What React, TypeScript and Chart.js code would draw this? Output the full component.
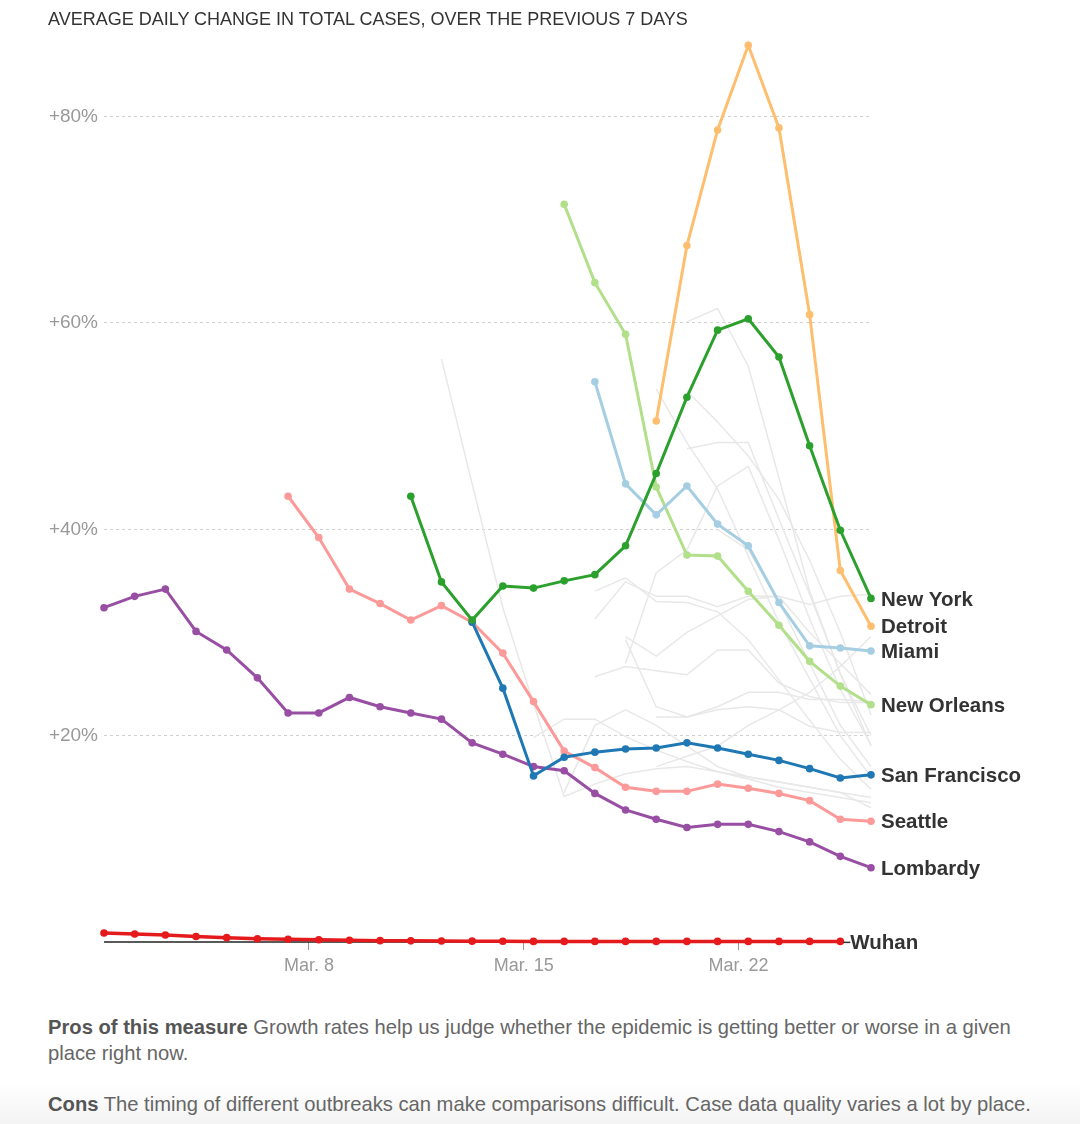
import React, { useEffect, useRef } from 'react';
import { Chart, registerables } from 'chart.js';

Chart.register(...registerables);

const TITLE = 'AVERAGE DAILY CHANGE IN TOTAL CASES, OVER THE PREVIOUS 7 DAYS';
const PROS_LABEL = 'Pros of this measure';
const PROS_LINE1 = ' Growth rates help us judge whether the epidemic is getting better or worse in a given';
const PROS_LINE2 = 'place right now.';
const CONS_LABEL = 'Cons';
const CONS_TEXT = ' The timing of different outbreaks can make comparisons difficult. Case data quality varies a lot by place.';

// x = day of March; points sit slightly after the midnight tick
const POINT_OFFSET = 0.32;
const tickDays = [8, 15, 22];
const tickLabels = ['Mar. 8', 'Mar. 15', 'Mar. 22'];
const yTicks = [20, 40, 60, 80];

// Highlighted places (start day in March, daily values in %)
const newYorkStart = 11;
const newYork = [43.2, 34.9, 31.2, 34.5, 34.3, 35.0, 35.6, 38.4, 45.4, 52.8, 59.3, 60.4, 56.7, 48.1, 39.9, 33.3];
const detroitStart = 19;
const detroit = [50.5, 67.5, 78.7, 86.9, 78.9, 60.8, 36.0, 30.6];
const miamiStart = 17;
const miami = [54.3, 44.4, 41.4, 44.2, 40.5, 38.4, 32.9, 28.7, 28.5, 28.2];
const newOrleansStart = 16;
const newOrleans = [71.5, 63.9, 58.9, 44.1, 37.5, 37.4, 34.0, 30.7, 27.2, 24.8, 23.0];
const sanFranciscoStart = 13;
const sanFrancisco = [31.0, 24.6, 16.1, 17.9, 18.4, 18.7, 18.8, 19.3, 18.8, 18.2, 17.6, 16.8, 15.9, 16.2];
const seattleStart = 7;
const seattle = [43.2, 39.2, 34.2, 32.8, 31.2, 32.6, 31.0, 28.0, 23.3, 18.5, 16.9, 15.0, 14.6, 14.6, 15.3, 14.9, 14.4, 13.7, 11.9, 11.7];
const lombardyStart = 1;
const lombardy = [32.4, 33.5, 34.2, 30.1, 28.3, 25.6, 22.2, 22.2, 23.7, 22.8, 22.2, 21.6, 19.3, 18.2, 17.0, 16.6, 14.4, 12.8, 11.9, 11.1, 11.4, 11.4, 10.7, 9.7, 8.3, 7.2];
const wuhanStart = 1;
const wuhan = [0.87, 0.78, 0.68, 0.54, 0.42, 0.32, 0.26, 0.22, 0.17, 0.13, 0.11, 0.1, 0.08, 0.07, 0.06, 0.06, 0.06, 0.06, 0.06, 0.06, 0.06, 0.06, 0.06, 0.06, 0.06];

// Other places (grey background lines)
const otherStarts = [12, 20, 19, 20, 20, 18, 17, 17, 17, 18, 18, 19, 15, 19, 21, 16];
const otherValues = [
  [56.5, 44.4, 32.4, 23.1, 14.1, 15.3, 16.3, 16.8, 17.0, 16.5, 16.0, 15.5, 15.0, 14.5, 14.0],
  [60.1, 61.4, 55.8, 45.0, 34.0, 26.0, 19.0],
  [53.6, 48.4, 43.9, 37.4, 31.0, 25.5, 20.0, 16.0],
  [47.8, 48.4, 48.4, 41.0, 33.7, 26.0, 20.0],
  [53.4, 50.4, 47.1, 42.9, 37.0, 30.0, 22.0],
  [27.0, 35.8, 38.0, 44.2, 46.1, 39.0, 31.3, 24.5, 19.1],
  [34.0, 35.3, 33.0, 32.9, 32.0, 29.3, 25.4, 21.5, 17.7, 14.8],
  [31.3, 34.9, 33.5, 33.5, 32.5, 33.5, 33.5, 32.7, 33.5, 33.7],
  [25.7, 26.7, 26.3, 25.9, 28.3, 28.3, 25.1, 23.8, 23.2, 23.2],
  [29.6, 27.7, 30.0, 31.6, 33.2, 33.5, 30.0, 27.0, 24.0],
  [29.3, 22.8, 21.8, 22.8, 24.2, 24.2, 23.5, 23.5, 23.3],
  [21.8, 21.8, 22.5, 22.8, 22.5, 20.9, 20.3, 20.3],
  [19.8, 21.6, 21.6, 19.9, 18.6, 17.5, 16.5, 15.8, 15.0, 14.5, 14.0, 13.5],
  [17.0, 18.0, 19.0, 21.0, 22.5, 24.2, 26.7, 29.6],
  [40.0, 38.0, 33.0, 27.0, 21.0, 17.0],
  [14.5, 21.0, 22.5, 21.0, 19.0, 17.0, 16.0, 15.5, 15.0, 14.5, 13.0],
];

const FONT = '"Liberation Sans", Arial, sans-serif';

const toPoints = (start: number, values: number[]) =>
  values.map((v, i) => ({ x: start + i + POINT_OFFSET, y: v }));

const highlight = (label: string, start: number, values: number[], color: string, extra: any = {}) => ({
  label,
  endLabel: label,
  data: toPoints(start, values),
  borderColor: color,
  backgroundColor: color,
  pointBackgroundColor: color,
  pointBorderWidth: 0,
  pointRadius: 3.8,
  borderWidth: 3,
  tension: 0,
  clip: false,
  ...extra,
});

const endLabelPlugin = {
  id: 'endLabels',
  afterDatasetsDraw(chart: any) {
    const ctx = chart.ctx;
    chart.data.datasets.forEach((ds: any, i: number) => {
      if (!ds.endLabel) return;
      const meta = chart.getDatasetMeta(i);
      const pt = meta.data[meta.data.length - 1];
      if (!pt) return;
      ctx.save();
      ctx.font = `bold 20.5px ${FONT}`;
      ctx.fillStyle = '#333';
      ctx.textBaseline = 'middle';
      let x = pt.x + 10;
      if (ds.dashToLabel) {
        ctx.strokeStyle = '#333';
        ctx.lineWidth = 1.5;
        ctx.beginPath();
        ctx.moveTo(pt.x + 3, pt.y + 1);
        ctx.lineTo(pt.x + 10, pt.y + 1);
        ctx.stroke();
        x = pt.x + 10;
      }
      ctx.fillText(ds.endLabel, x, pt.y + 1.5);
      ctx.restore();
    });
  },
};

export default function App() {
  const canvasRef = useRef<HTMLCanvasElement | null>(null);

  useEffect(() => {
    if (!canvasRef.current) return;
    const datasets: any[] = [
      highlight('New York', newYorkStart, newYork, '#2ca02c'),
      highlight('Detroit', detroitStart, detroit, '#fdbf6f'),
      highlight('Miami', miamiStart, miami, '#a6cee3'),
      highlight('New Orleans', newOrleansStart, newOrleans, '#b2df8a'),
      highlight('San Francisco', sanFranciscoStart, sanFrancisco, '#1f78b4'),
      highlight('Seattle', seattleStart, seattle, '#fb9a99'),
      highlight('Lombardy', lombardyStart, lombardy, '#984ea3'),
      highlight('Wuhan', wuhanStart, wuhan, '#e41a1c', { borderWidth: 3.5, dashToLabel: true }),
      {
        label: 'zero',
        data: toPoints(wuhanStart, wuhan.map(() => 0)),
        borderColor: '#222',
        borderWidth: 1.5,
        pointRadius: 0,
        clip: false,
      },
      ...otherValues.map((vals, i) => ({
        label: 'other' + i,
        data: toPoints(otherStarts[i], vals),
        borderColor: '#e8e8e8',
        borderWidth: 1.5,
        pointRadius: 0,
        tension: 0,
        clip: false,
      })),
    ];

    const chart = new Chart(canvasRef.current, {
      type: 'line',
      data: { datasets },
      options: {
        responsive: false,
        animation: false,
        events: [],
        layout: { padding: { top: 34, right: 209, left: 0, bottom: 0 } },
        plugins: { legend: { display: false }, tooltip: { enabled: false } },
        scales: {
          x: {
            type: 'linear',
            min: 1 + POINT_OFFSET,
            max: 26 + POINT_OFFSET,
            afterBuildTicks: (s: any) => {
              s.ticks = tickDays.map((d) => ({ value: d }));
            },
            afterFit: (s: any) => {
              s.height = 58;
            },
            ticks: {
              callback: (_v: any, i: number) => tickLabels[i],
              color: '#999',
              font: { size: 18, family: FONT },
              padding: 5,
              maxRotation: 0,
              autoSkip: false,
            },
            grid: {
              drawOnChartArea: false,
              drawTicks: true,
              tickLength: 8,
              tickColor: '#999',
              tickWidth: 1,
            },
            border: { display: false },
          },
          y: {
            min: 0,
            max: 88,
            afterBuildTicks: (s: any) => {
              s.ticks = yTicks.map((v) => ({ value: v }));
            },
            afterFit: (s: any) => {
              s.width = 104;
            },
            ticks: {
              callback: (v: any) => '+' + v + '%',
              color: '#999',
              font: { size: 19, family: FONT },
              padding: 6,
            },
            grid: { color: '#cfcfcf', lineWidth: 1, drawTicks: false },
            border: { display: false, dash: [3, 3] },
          },
        },
      },
      plugins: [endLabelPlugin],
    } as any);

    return () => chart.destroy();
  }, []);

  const textFont = '"Liberation Sans", Arial, sans-serif';

  return (
    <div style={{ position: 'absolute', left: 0, top: 0, width: 1080, height: 1124, background: '#fff', overflow: 'hidden' }}>
      <div
        style={{
          position: 'absolute',
          left: 0,
          right: 0,
          bottom: 0,
          height: 40,
          background: 'linear-gradient(#ffffff, #f3f3f3)',
        }}
      />
      <canvas ref={canvasRef} width={1080} height={1000} style={{ position: 'absolute', left: 0, top: 0 }} />
      <div
        style={{
          position: 'absolute',
          left: 48,
          top: 8,
          fontFamily: textFont,
          fontSize: 18,
          lineHeight: '22px',
          color: '#333',
          whiteSpace: 'nowrap',
        }}
      >
        {TITLE}
      </div>
      <div
        style={{
          position: 'absolute',
          left: 48,
          top: 1014,
          fontFamily: textFont,
          fontSize: 20.2,
          lineHeight: '26px',
          color: '#666',
          whiteSpace: 'nowrap',
        }}
      >
        <div>
          <b style={{ color: '#555' }}>{PROS_LABEL}</b>
          {PROS_LINE1}
        </div>
        <div>{PROS_LINE2}</div>
        <div style={{ marginTop: 25 }}>
          <b style={{ color: '#555' }}>{CONS_LABEL}</b>
          {CONS_TEXT}
        </div>
      </div>
    </div>
  );
}
